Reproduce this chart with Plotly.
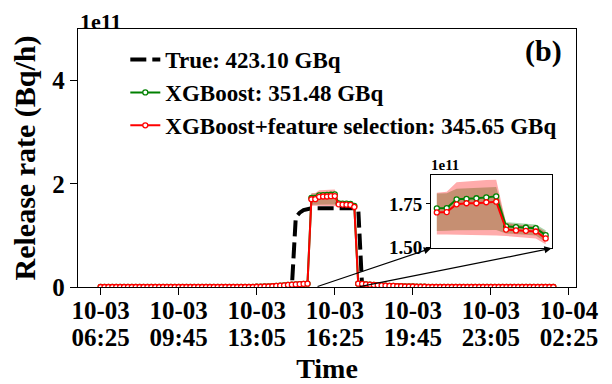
import pandas as pd
import plotly.graph_objects as go

# ---------------- data (release rate in units of 1e11 Bq/h) ----------------
start = pd.Timestamp("2023-10-03 06:25")
times = pd.date_range(start, periods=117, freq="10min")

true_vals = [
    0, 0, 0, 0, 0, 0, 0, 0, 0, 0,
    0, 0, 0, 0, 0, 0, 0, 0, 0, 0,
    0, 0, 0, 0, 0, 0, 0, 0, 0, 0,
    0, 0, 0, 0, 0, 0, 0, 0, 0, 0,
    0, 0, 0, 0, 0, 0, 0, 0, 0, 0,
    1.35, 1.44, 1.49, 1.51, 1.525, 1.525, 1.525, 1.525, 1.525, 1.525,
    1.525, 1.525, 1.525, 1.525, 1.525, 1.525, 1.525, 0, 0, 0,
    0, 0, 0, 0, 0, 0, 0, 0, 0, 0,
    0, 0, 0, 0, 0, 0, 0, 0, 0, 0,
    0, 0, 0, 0, 0, 0, 0, 0, 0, 0,
    0, 0, 0, 0, 0, 0, 0, 0, 0, 0,
    0, 0, 0, 0, 0, 0, 0,
]

xgb_vals = [
    0, 0, 0, 0, 0, 0, 0, 0, 0, 0,
    0, 0, 0, 0, 0, 0, 0, 0, 0, 0,
    0, 0, 0, 0, 0, 0, 0, 0, 0, 0,
    0, 0, 0, 0, 0, 0, 0, 0, 0, 0,
    0.005, 0.005, 0.01, 0.01, 0.015, 0.02, 0.025, 0.03, 0.04, 0.045,
    0.05, 0.055, 0.06, 0.065, 1.725, 1.726, 1.777, 1.779, 1.783, 1.788,
    1.794, 1.621, 1.616, 1.614, 1.610, 1.570, 0.065, 0.06, 0.05, 0.045,
    0.04, 0.035, 0.03, 0.025, 0.02, 0.02, 0.015, 0.015, 0.01, 0.01,
    0.01, 0.005, 0.005, 0.005, 0, 0, 0, 0, 0, 0,
    0, 0, 0, 0, 0, 0, 0, 0, 0, 0,
    0, 0, 0, 0, 0, 0, 0, 0, 0, 0,
    0, 0, 0, 0, 0, 0, 0,
]

xgbfs_vals = [
    0, 0, 0, 0, 0, 0, 0, 0, 0, 0,
    0, 0, 0, 0, 0, 0, 0, 0, 0, 0,
    0, 0, 0, 0, 0, 0, 0, 0, 0, 0,
    0, 0, 0, 0, 0, 0, 0, 0, 0, 0,
    0.005, 0.005, 0.01, 0.01, 0.015, 0.02, 0.025, 0.03, 0.04, 0.045,
    0.05, 0.055, 0.06, 0.065, 1.701, 1.703, 1.748, 1.754, 1.754, 1.760,
    1.763, 1.602, 1.597, 1.595, 1.591, 1.551, 0.065, 0.06, 0.05, 0.045,
    0.04, 0.035, 0.03, 0.025, 0.02, 0.02, 0.015, 0.015, 0.01, 0.01,
    0.01, 0.005, 0.005, 0.005, 0, 0, 0, 0, 0, 0,
    0, 0, 0, 0, 0, 0, 0, 0, 0, 0,
    0, 0, 0, 0, 0, 0, 0, 0, 0, 0,
    0, 0, 0, 0, 0, 0, 0,
]

# uncertainty bands over the release window (indices 54..65)
band_start = 54
xgb_lo = [1.594, 1.595, 1.598, 1.600, 1.600, 1.600, 1.600, 1.580, 1.575, 1.572, 1.568, 1.530]
xgb_hi = [1.810, 1.812, 1.838, 1.840, 1.842, 1.845, 1.848, 1.645, 1.640, 1.636, 1.632, 1.598]
fs_lo = [1.574, 1.574, 1.572, 1.572, 1.571, 1.570, 1.568, 1.565, 1.560, 1.556, 1.550, 1.518]
fs_hi = [1.815, 1.821, 1.875, 1.880, 1.885, 1.888, 1.890, 1.640, 1.632, 1.628, 1.622, 1.590]

legend_names = ["True: 423.10 GBq", "XGBoost: 351.48 GBq",
                "XGBoost+feature selection: 345.65 GBq"]
x_tick_day = ["10-03", "10-03", "10-03", "10-03", "10-03", "10-03", "10-04"]
x_tick_hm = ["06:25", "09:45", "13:05", "16:25", "19:45", "23:05", "02:25"]
y_ticks = [0, 2, 4]
inset_ticks = [1.50, 1.75]

# ---------------- geometry ----------------
# the page body keeps its default 8px margin, so the figure is 8px smaller
W, H = 604, 376
ML, MR, MT, MB = 70, 36, 21, 97
FONT = "Liberation Serif"
tick_times = pd.date_range(start, periods=7, freq="200min")
span = times[-1] - times[0]
x_range = [times[0] - span * 0.05, times[-1] + span * 0.05]
y_range = [0, 5]

n_band = len(xgb_lo)
band_times = list(times[band_start:band_start + n_band])
step = times[1] - times[0]
inset_x_range = [band_times[0] - step * 0.58, band_times[-1] + step * 0.6]
inset_y_range = [1.494, 1.917]
inset_dom_x = [0.709, 0.951]
inset_dom_y = [0.150, 0.434]

fig = go.Figure()

def add_series(xa, ya, show, sl):
    if show:
        fig.add_trace(go.Scatter(
            x=times, y=true_vals, mode="lines", name=legend_names[0],
            line=dict(color="black", width=4, dash="16px,6px"),
            xaxis=xa, yaxis=ya, showlegend=True, hoverinfo="skip"))
    # bands (green first, red on top)
    for lo, hi, col in [(xgb_lo, xgb_hi, "rgba(0,128,0,0.33)"),
                        (fs_lo, fs_hi, "rgba(255,0,0,0.33)")]:
        fig.add_trace(go.Scatter(
            x=band_times + band_times[::-1], y=hi + lo[::-1],
            fill="toself", fillcolor=col, mode="lines", line=dict(width=0),
            xaxis=xa, yaxis=ya, showlegend=False, hoverinfo="skip"))
    for vals, col, nm in [(xgb_vals, "green", legend_names[1]),
                          (xgbfs_vals, "red", legend_names[2])]:
        fig.add_trace(go.Scatter(
            x=list(times[sl]), y=vals[sl], mode="lines+markers", name=nm,
            line=dict(color=col, width=2),
            marker=dict(symbol="circle", size=5, color="white",
                        line=dict(color=col, width=1.3)),
            xaxis=xa, yaxis=ya, showlegend=show, hoverinfo="skip"))

add_series("x", "y", True, slice(None))
add_series("x2", "y2", False, slice(band_start, band_start + n_band))
# carrier for the second row of x tick labels
fig.add_trace(go.Scatter(x=[times[0]], y=[0], mode="markers",
                         marker=dict(opacity=0, size=1), xaxis="x3", yaxis="y",
                         showlegend=False, hoverinfo="skip"))

tickfont = dict(family=FONT, size=25, color="black", weight="bold")
axis_common = dict(showline=True, linecolor="black", linewidth=1.4, mirror=True,
                   showgrid=False, zeroline=False, ticks="outside", ticklen=7,
                   tickwidth=1.3, tickcolor="black", tickfont=tickfont,
                   automargin=False)

fig.update_layout(
    width=W, height=H,
    margin=dict(l=ML, r=MR, t=MT, b=MB),
    plot_bgcolor="white", paper_bgcolor="white",
    xaxis=dict(**axis_common, range=x_range, tickvals=list(tick_times),
               ticktext=x_tick_day, domain=[0, 1], ticklabelstandoff=-6,
               title=dict(text="Time", standoff=40,
                          font=dict(family=FONT, size=28, color="black", weight="bold"))),
    xaxis3=dict(overlaying="x", anchor="y", side="bottom", range=x_range,
                tickvals=list(tick_times), ticktext=x_tick_hm, showline=False,
                showgrid=False, zeroline=False, ticks="", ticklen=0,
                ticklabelstandoff=33, tickfont=tickfont, automargin=False),
    yaxis=dict(**axis_common, range=y_range, tickvals=y_ticks,
               ticktext=[str(v) for v in y_ticks], domain=[0, 1],
               title=dict(text="Release rate (Bq/h)", standoff=8,
                          font=dict(family=FONT, size=30, color="black", weight="bold"))),
    xaxis2=dict(domain=inset_dom_x, anchor="y2", range=inset_x_range,
                showline=True, linecolor="black", linewidth=1, mirror=True,
                showgrid=False, zeroline=False, showticklabels=False, ticks="",
                automargin=False),
    yaxis2=dict(domain=inset_dom_y, anchor="x2", range=inset_y_range,
                tickvals=inset_ticks, ticktext=["%.2f" % v for v in inset_ticks],
                showline=True, linecolor="black", linewidth=1, mirror=True,
                showgrid=False, zeroline=False, ticks="outside", ticklen=4,
                tickcolor="black", tickwidth=1, automargin=False,
                tickfont=dict(family=FONT, size=19, color="black", weight="bold")),
    legend=dict(x=0.095, y=0.965, xanchor="left", yanchor="top",
                bgcolor="rgba(0,0,0,0)",
                font=dict(family=FONT, size=23, color="black", weight="bold"),
                tracegroupgap=0),
    showlegend=True,
)

# arrows from the zoomed window to the inset corners (positions via axis ranges)
def main_x(frac):
    return x_range[0] + (x_range[1] - x_range[0]) * frac

def main_y(frac):
    return y_range[0] + (y_range[1] - y_range[0]) * frac

arrow_tails = [times[55] + pd.Timedelta("2min"), times[66]]
arrow_heads = [(main_x(inset_dom_x[0]), main_y(inset_dom_y[0])),
               (main_x(inset_dom_x[1]), main_y(inset_dom_y[0]))]
for tail, (hx, hy) in zip(arrow_tails, arrow_heads):
    fig.add_annotation(x=hx, y=hy, xref="x", yref="y", ax=tail, ay=0,
                       axref="x", ayref="y", text="", showarrow=True,
                       arrowhead=2, arrowsize=1.2, arrowwidth=1.2,
                       arrowcolor="black", standoff=0, startstandoff=0)

fig.add_annotation(text="1e11", xref="paper", yref="paper", x=0, y=1,
                   xanchor="left", yanchor="bottom", yshift=-7, showarrow=False,
                   font=dict(family=FONT, size=22, color="black", weight="bold"))
fig.add_annotation(text="(b)", xref="paper", yref="paper", x=0.976, y=0.987,
                   xanchor="right", yanchor="top", showarrow=False,
                   font=dict(family=FONT, size=30, color="black", weight="bold"))
fig.add_annotation(text="1e11", xref="paper", yref="paper", x=inset_dom_x[0], y=inset_dom_y[1],
                   xanchor="left", yanchor="bottom", xshift=-2, showarrow=False,
                   font=dict(family=FONT, size=15, color="black", weight="bold"))

fig.write_html("out.html")
